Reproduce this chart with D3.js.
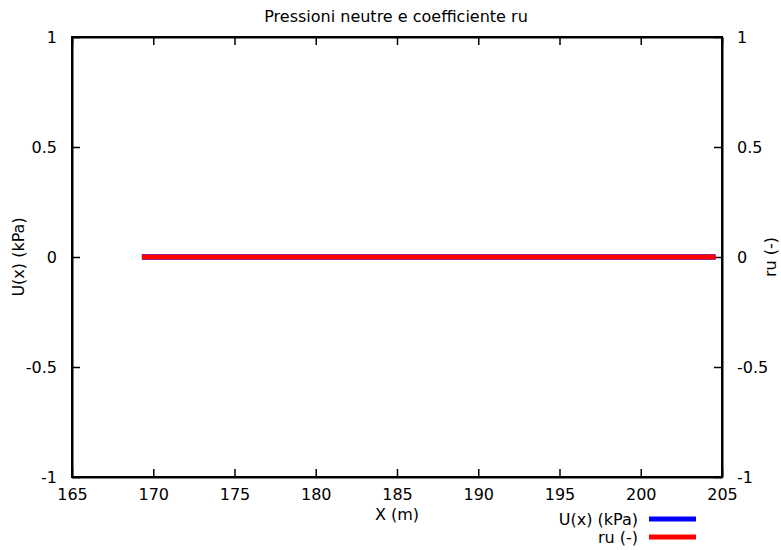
<!DOCTYPE html>
<html>
<head>
<meta charset="utf-8">
<script src="https://cdn.jsdelivr.net/npm/d3@7"></script>
<style>
  body { margin: 0; background: #fff; }
  text { font-family: "DejaVu Sans", sans-serif; font-size: 16px; fill: #000; }
</style>
</head>
<body>
<div id="chart"></div>
<script>
// data
const xs = [169.3, 173.7, 181.6, 189.5, 197.3, 204.6];
const uVals = [0, 0, 0, 0, 0, 0];
const ruVals = [0, 0, 0, 0, 0, 0];
const xTicks = [165, 170, 175, 180, 185, 190, 195, 200, 205];
const yTicks = [-1, -0.5, 0, 0.5, 1];
const seriesNames = ['U(x) (kPa)', 'ru (-)'];
const seriesColors = ['#0000ff', '#ff0000'];

const width = 781, height = 550;
const margin = {top: 37, right: 59, bottom: 73, left: 72};

const svg = d3.select('#chart').append('svg')
  .attr('width', width)
  .attr('height', height);

const x = d3.scaleLinear().domain([165, 205]).range([margin.left, width - margin.right]);
const y = d3.scaleLinear().domain([-1, 1]).range([height - margin.bottom, margin.top]);
const y2 = d3.scaleLinear().domain([-1, 1]).range([height - margin.bottom, margin.top]);

const fmt = d => d === 0 ? '0' : String(d);

// axes: gnuplot style, ticks pointing inward
const axB = svg.append('g')
  .attr('transform', `translate(0,${height - margin.bottom})`)
  .call(d3.axisBottom(x).tickValues(xTicks).tickFormat(fmt).tickSizeInner(-8).tickSizeOuter(0).tickPadding(12));
const axT = svg.append('g')
  .attr('transform', `translate(0,${margin.top})`)
  .call(d3.axisTop(x).tickValues(xTicks).tickFormat('').tickSizeInner(-8).tickSizeOuter(0));
const axL = svg.append('g')
  .attr('transform', `translate(${margin.left},0)`)
  .call(d3.axisLeft(y).tickValues(yTicks).tickFormat(fmt).tickSizeInner(-8).tickSizeOuter(0).tickPadding(15));
const axR = svg.append('g')
  .attr('transform', `translate(${width - margin.right},0)`)
  .call(d3.axisRight(y2).tickValues(yTicks).tickFormat(fmt).tickSizeInner(-8).tickSizeOuter(0).tickPadding(15));

[axB, axT, axL, axR].forEach(g => {
  g.select('.domain').attr('stroke', '#000').attr('stroke-width', 2);
  g.selectAll('.tick line').attr('stroke', '#000').attr('stroke-width', 1.5);
  g.selectAll('.tick text').style('font-family', '"DejaVu Sans", sans-serif').style('font-size', '16px');
});
svg.append('rect')
  .attr('x', margin.left).attr('y', margin.top)
  .attr('width', width - margin.left - margin.right)
  .attr('height', height - margin.top - margin.bottom)
  .attr('fill', 'none').attr('stroke', '#000').attr('stroke-width', 2);

// series (ru drawn over U, both at zero)
const line = (scale, vals) => d3.line().x((d, i) => x(xs[i])).y(d => scale(d))(vals);
svg.append('path')
  .attr('d', line(y, uVals))
  .attr('fill', 'none').attr('stroke', seriesColors[0]).attr('stroke-width', 5.5);
svg.append('path')
  .attr('d', line(y2, ruVals))
  .attr('fill', 'none').attr('stroke', seriesColors[1]).attr('stroke-width', 5);

// titles
svg.append('text').attr('x', 396).attr('y', 22).attr('text-anchor', 'middle')
  .text('Pressioni neutre e coefficiente ru');
svg.append('text').attr('x', 397).attr('y', 520).attr('text-anchor', 'middle').text('X (m)');
svg.append('text').attr('transform', 'translate(24,257) rotate(-90)').attr('text-anchor', 'middle')
  .text('U(x) (kPa)');
svg.append('text').attr('transform', 'translate(776,257) rotate(-90)').attr('text-anchor', 'middle')
  .text('ru (-)');

// legend
const legend = svg.append('g');
seriesNames.forEach((name, i) => {
  const ly = 519 + i * 18;
  legend.append('text').attr('x', 638).attr('y', ly + 6).attr('text-anchor', 'end').text(name);
  legend.append('line').attr('x1', 649).attr('x2', 696).attr('y1', ly).attr('y2', ly)
    .attr('stroke', seriesColors[i]).attr('stroke-width', 5);
});
</script>
</body>
</html>
